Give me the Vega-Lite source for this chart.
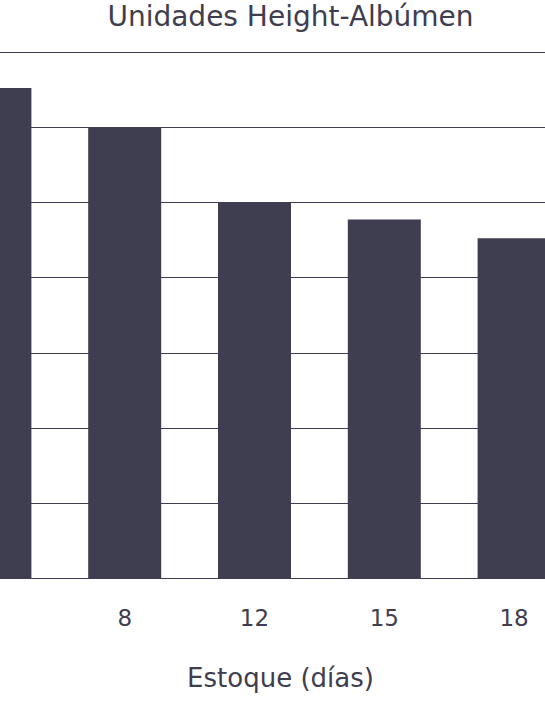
{
  "$schema": "https://vega.github.io/schema/vega-lite/v6.json",
  "width": 545,
  "height": 526,
  "autosize": "none",
  "padding": {"top": 52, "left": 0, "right": 0, "bottom": 128},
  "background": "#ffffff",
  "config": {
    "view": {"stroke": null},
    "font": "DejaVu Sans"
  },
  "title": {
    "text": "Unidades Height-Albúmen",
    "fontSize": 28,
    "fontWeight": "normal",
    "color": "#3f3d50",
    "anchor": "middle",
    "dx": 18,
    "offset": 20
  },
  "data": {
    "values": [
      {"dias": "4", "unidades": 65.2},
      {"dias": "8", "unidades": 60.0},
      {"dias": "12", "unidades": 49.9},
      {"dias": "15", "unidades": 47.7},
      {"dias": "18", "unidades": 45.2}
    ]
  },
  "mark": {"type": "bar", "color": "#3f3d50", "clip": true},
  "encoding": {
    "x": {
      "field": "dias",
      "type": "ordinal",
      "sort": null,
      "scale": {"range": [-70, 579], "paddingInner": 0.4376, "paddingOuter": 0.2188},
      "axis": {
        "values": ["8", "12", "15", "18"],
        "labelAngle": 0,
        "ticks": false,
        "domain": false,
        "labelFontSize": 23,
        "labelColor": "#3f3d50",
        "labelPadding": 29,
        "title": "Estoque (días)",
        "titleFontSize": 26,
        "titleFontWeight": "normal",
        "titleColor": "#3f3d50",
        "titlePadding": 35,
        "titleX": 280
      }
    },
    "y": {
      "field": "unidades",
      "type": "quantitative",
      "scale": {"domain": [0, 70]},
      "axis": {
        "values": [0, 10, 20, 30, 40, 50, 60, 70],
        "labels": false,
        "ticks": false,
        "domain": false,
        "title": null,
        "grid": true,
        "gridColor": "#3f3d50",
        "gridWidth": 1.2,
        "gridOpacity": 1
      }
    }
  }
}
